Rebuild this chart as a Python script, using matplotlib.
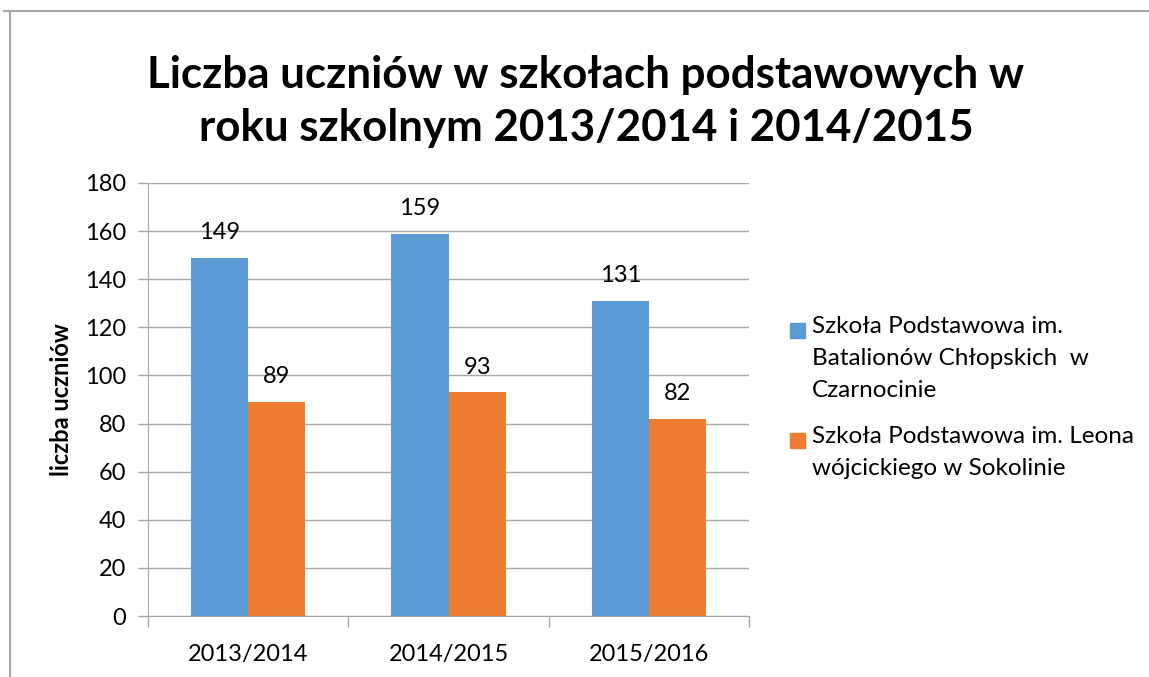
import matplotlib.pyplot as plt
import matplotlib.patches as mpatches
import numpy as np

plt.rcParams['font.family'] = ['Lato', 'DejaVu Sans']

lata = ['2013/2014', '2014/2015', '2015/2016']
czarnocin = [149, 159, 131]
sokolin = [89, 93, 82]
nazwy = ['Szkoła Podstawowa im.\nBatalionów Chłopskich  w\nCzarnocinie',
         'Szkoła Podstawowa im. Leona\nwójcickiego w Sokolinie']
tytul = 'Liczba uczniów w szkołach podstawowych w\nroku szkolnym 2013/2014 i 2014/2015'

niebieski = '#5B9BD5'
pomaranczowy = '#ED7D31'
szary = '#A6A6A6'

W, H = 1149, 677
fig = plt.figure(figsize=(W / 100, H / 100), dpi=100)
ax = fig.add_axes([0.1288, 0.0901, 0.5232, 0.6396])

x = np.arange(len(lata))
w = 0.285
b1 = ax.bar(x - w / 2, czarnocin, w, color=niebieski, zorder=2)
b2 = ax.bar(x + w / 2, sokolin, w, color=pomaranczowy, zorder=2)

#etykiety nad słupkami
for bars in (b1, b2):
    for r in bars:
        ax.text(r.get_x() + r.get_width() / 2, r.get_height() + 6, str(int(r.get_height())),
                ha='center', va='bottom', fontsize=17, color='#000000')

ax.set_xlim(-0.5, 2.5)
ax.set_ylim(0, 180)
ax.set_yticks(range(0, 181, 20))
ax.set_xticks(x)
ax.set_xticklabels(lata)
ax.set_xticks([-0.5, 0.5, 1.5, 2.5], minor=True)
ax.tick_params(axis='x', which='major', length=0, pad=20, labelsize=17)
ax.tick_params(axis='x', which='minor', length=8, color=szary, width=1)
ax.tick_params(axis='y', length=7, color=szary, width=1, labelsize=17, pad=9)

ax.grid(axis='y', color=szary, linewidth=1, zorder=0)
for s in ['top', 'right']:
    ax.spines[s].set_visible(False)
for s in ['left', 'bottom']:
    ax.spines[s].set_color(szary)

ax.set_ylabel('liczba uczniów', fontsize=17, fontweight='bold', labelpad=8)

fig.text(0.51, 0.85, tytul, ha='center', va='center', fontsize=31.6, fontweight='bold',
         linespacing=1.38)

#legenda - kwadrat przy pierwszym wierszu, jak w Excelu
for kolor, nazwa, yy in [(niebieski, nazwy[0], 330), (pomaranczowy, nazwy[1], 440)]:
    fig.patches.append(mpatches.Rectangle((790 / W, 1 - (yy + 7.5) / H), 15 / W, 15 / H,
                                          transform=fig.transFigure, color=kolor))
    fig.text(812 / W, 1 - (yy - 14) / H, nazwa, ha='left', va='top', fontsize=17.5,
             linespacing=1.66)

#ramka
fig.add_artist(plt.Line2D([0.0035, 1.0], [0.984, 0.984], color=szary, linewidth=1.5))
fig.add_artist(plt.Line2D([0.0085, 0.0085], [0.0, 0.984], color=szary, linewidth=1.5))

fig.savefig('out.png', dpi=100)
